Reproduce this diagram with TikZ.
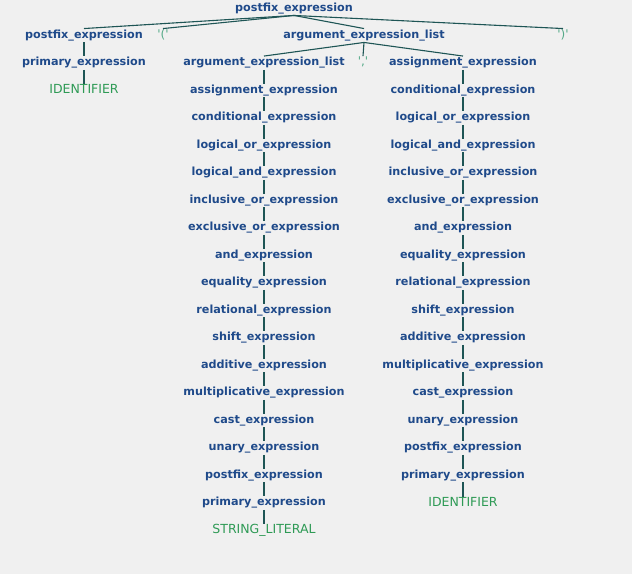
\documentclass[tikz,border=0pt]{standalone}
\usepackage{fontspec}
\setmainfont{DejaVu Sans}
\definecolor{bg}{HTML}{F0F0F0}
\definecolor{ntblue}{HTML}{1F4A8A}
\definecolor{tmgreen}{HTML}{2E9A55}
\definecolor{punct}{HTML}{55AA88}
\definecolor{edgeteal}{HTML}{1E5555}
\newcommand{\sq}{\textquotesingle}
\begin{document}
\begin{tikzpicture}[x=1pt,y=-1pt,
  nt/.style={font=\bfseries\fontsize{11.2}{12}\selectfont, text=ntblue,
    inner sep=1.5pt, text height=8pt, text depth=2.5pt},
  tm/.style={font=\fontsize{12.5}{14}\selectfont, text=tmgreen,
    inner sep=1.5pt, text height=8.5pt, text depth=2pt},
  pc/.style={font=\fontsize{12}{13}\selectfont, text=punct,
    inner sep=1.5pt, text height=8pt, text depth=2.5pt},
  edge/.style={draw=edgeteal, line width=1.1pt}]
\useasboundingbox[fill=bg] (0,0) rectangle (632,574);

% top levels
\node[nt] (root) at (294,8.5)  {postfix\_expression};
\node[nt] (pe1)  at (84,35.5)  {postfix\_expression};
\node[pc] (lp)   at (163,35.5) {\sq(\sq};
\node[nt] (ael)  at (364,35.5) {argument\_expression\_list};
\node[pc] (rp)   at (563,35.5) {\sq)\sq};
\node[nt] (pr1)  at (84,63)  {primary\_expression};
\node[tm] (id1)  at (84,90.5)  {IDENTIFIER};
\node[nt] (ael2) at (264,63) {argument\_expression\_list};
\node[pc] (cm)   at (363,63) {\sq,\sq};

% left chain under the inner argument list
\foreach [count=\i] \t in {assignment\_expression, conditional\_expression,
  logical\_or\_expression, logical\_and\_expression, inclusive\_or\_expression,
  exclusive\_or\_expression, and\_expression, equality\_expression,
  relational\_expression, shift\_expression, additive\_expression,
  multiplicative\_expression, cast\_expression, unary\_expression,
  postfix\_expression, primary\_expression}
  \node[nt] (L\i) at (264,63+27.5*\i) {\t};
\node[tm] (L17) at (264,530.5) {STRING\_LITERAL};

% right chain for the second argument
\foreach [count=\i] \t in {assignment\_expression, conditional\_expression,
  logical\_or\_expression, logical\_and\_expression, inclusive\_or\_expression,
  exclusive\_or\_expression, and\_expression, equality\_expression,
  relational\_expression, shift\_expression, additive\_expression,
  multiplicative\_expression, cast\_expression, unary\_expression,
  postfix\_expression, primary\_expression}
  \node[nt] (R\i) at (463,35.5+27.5*\i) {\t};
\node[tm] (R17) at (463,503.5) {IDENTIFIER};

% connectors
\foreach \c in {pe1,lp,ael,rp}
  \draw[edge] (root.south) -- (\c.north);
\draw[edge] (pe1.south) -- (pr1.north);
\draw[edge] (pr1.south) -- (id1.north);
\foreach \c in {ael2,cm,R1}
  \draw[edge] (ael.south) -- (\c.north);
\draw[edge] (ael2.south) -- (L1.north);
\foreach \i in {2,...,17}{
  \pgfmathtruncatemacro\p{\i-1}
  \draw[edge] (L\p.south) -- (L\i.north);
  \draw[edge] (R\p.south) -- (R\i.north);
}
\end{tikzpicture}
\end{document}
